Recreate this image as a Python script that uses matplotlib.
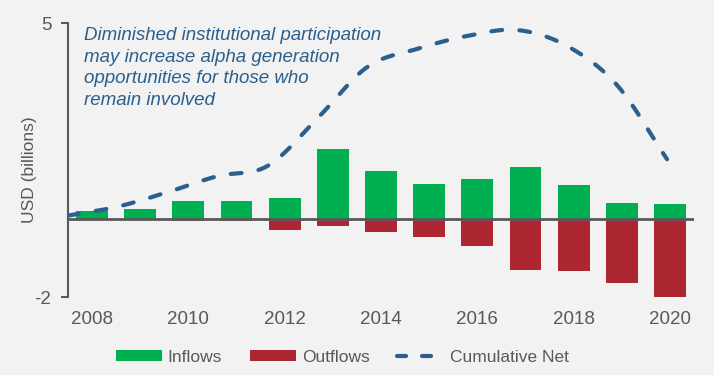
import numpy as np
import matplotlib
matplotlib.use("Agg")
import matplotlib.pyplot as plt
from matplotlib.patches import Patch
from matplotlib.lines import Line2D

years = [2008, 2009, 2010, 2011, 2012, 2013, 2014, 2015, 2016, 2017, 2018, 2019, 2020]
inflows = [0.19, 0.25, 0.45, 0.45, 0.53, 1.78, 1.22, 0.88, 1.01, 1.32, 0.86, 0.40, 0.37]
outflows = [-0.01, -0.01, -0.05, -0.05, -0.28, -0.18, -0.33, -0.46, -0.69, -1.31, -1.33, -1.64, -2.05]
cumulative = [0.08, 0.31, 0.68, 1.09, 1.35, 2.57, 3.88, 4.34, 4.67, 4.82, 4.41, 3.41, 1.52]
xtick_labels = ["2008", "2010", "2012", "2014", "2016", "2018", "2020"]
annotation = ("Diminished institutional participation\nmay increase alpha generation\n"
              "opportunities for those who\nremain involved")

BG = "#F2F2F2"
GREEN = "#00B050"
RED = "#AD2733"
BLUE = "#2B5F8D"
GRAY = "#595959"

plt.rcParams["font.family"] = ["Liberation Sans", "DejaVu Sans"]
plt.rcParams["lines.scale_dashes"] = False


def catmull_rom(xs, ys, n=30):
    xs = np.asarray(xs, float)
    ys = np.asarray(ys, float)
    px = np.concatenate([[2 * xs[0] - xs[1]], xs, [2 * xs[-1] - xs[-2]]])
    py = np.concatenate([[2 * ys[0] - ys[1]], ys, [2 * ys[-1] - ys[-2]]])
    ox, oy = [], []
    for i in range(1, len(px) - 2):
        p0, p1, p2, p3 = [np.array([px[j], py[j]]) for j in (i - 1, i, i + 1, i + 2)]
        c1 = p1 + (p2 - p0) / 6.0
        c2 = p2 - (p3 - p1) / 6.0
        t = np.linspace(0, 1, n, endpoint=(i == len(px) - 3))
        pts = ((1 - t) ** 3)[:, None] * p1 + (3 * (1 - t) ** 2 * t)[:, None] * c1 \
            + (3 * (1 - t) * t ** 2)[:, None] * c2 + (t ** 3)[:, None] * p2
        ox.extend(pts[:, 0]); oy.extend(pts[:, 1])
    return np.array(ox), np.array(oy)


fig = plt.figure(figsize=(7.14, 3.75), dpi=100, facecolor=BG)
ax = fig.add_axes([68 / 714, 1 - 297 / 375, 626 / 714, 274 / 375], facecolor=BG)

ax.bar(years, inflows, width=0.66, color=GREEN, zorder=2)
ax.bar(years, outflows, width=0.66, color=RED, zorder=2)
ax.axhline(0, color=GRAY, lw=2, zorder=3)

ax.set_xlim(2007.5, 2020.5)
ax.set_ylim(-2, 5)
ax.set_yticks([-2, 5])
ax.set_yticklabels(["-2", "5"])
ax.set_xticks([int(l) for l in xtick_labels])
ax.set_xticklabels(xtick_labels)
ax.tick_params(axis="x", length=0, labelsize=13.5, labelcolor=GRAY, pad=10)
ax.tick_params(axis="y", length=5, width=1.5, color=GRAY, labelsize=13.5, labelcolor=GRAY, pad=7)
for s in ["top", "right", "bottom"]:
    ax.spines[s].set_visible(False)
ax.spines["left"].set_color(GRAY)
ax.spines["left"].set_linewidth(1.5)
ax.set_ylabel("USD (billions)", fontsize=12.5, color=GRAY)
ax.yaxis.set_label_coords(-0.0495, 0.4635)

# secondary x scale for the line (points on tick marks)
ax2 = ax.twiny()
ax2.set_xlim(0, 12.54)
ax2.set_ylim(-2, 5)
ax2.axis("off")
idx = np.arange(len(cumulative))
sx, sy = catmull_rom(idx, cumulative)
ax2.plot(sx, sy, color=BLUE, lw=3, dashes=(7.8, 12.4), dash_capstyle="round", zorder=4)

ax.text(0.026, 0.986, annotation, transform=ax.transAxes, ha="left", va="top",
        fontsize=13.5, style="italic", color=BLUE, linespacing=1.36, zorder=5)

handles = [Patch(facecolor=GREEN, edgecolor="none"),
           Patch(facecolor=RED, edgecolor="none"),
           Line2D([], [], color=BLUE, lw=3, dashes=(6.5, 11.5), dash_capstyle="round")]
fig.legend(handles, ["Inflows", "Outflows", "Cumulative Net"], loc="center",
           bbox_to_anchor=(342 / 714, 1 - 357 / 375), ncol=3, frameon=False,
           fontsize=12.5, labelcolor=GRAY, handlelength=2.65, handleheight=0.54,
           handletextpad=0.35, columnspacing=1.6)

fig.savefig("out.png", dpi=100, facecolor=BG)
